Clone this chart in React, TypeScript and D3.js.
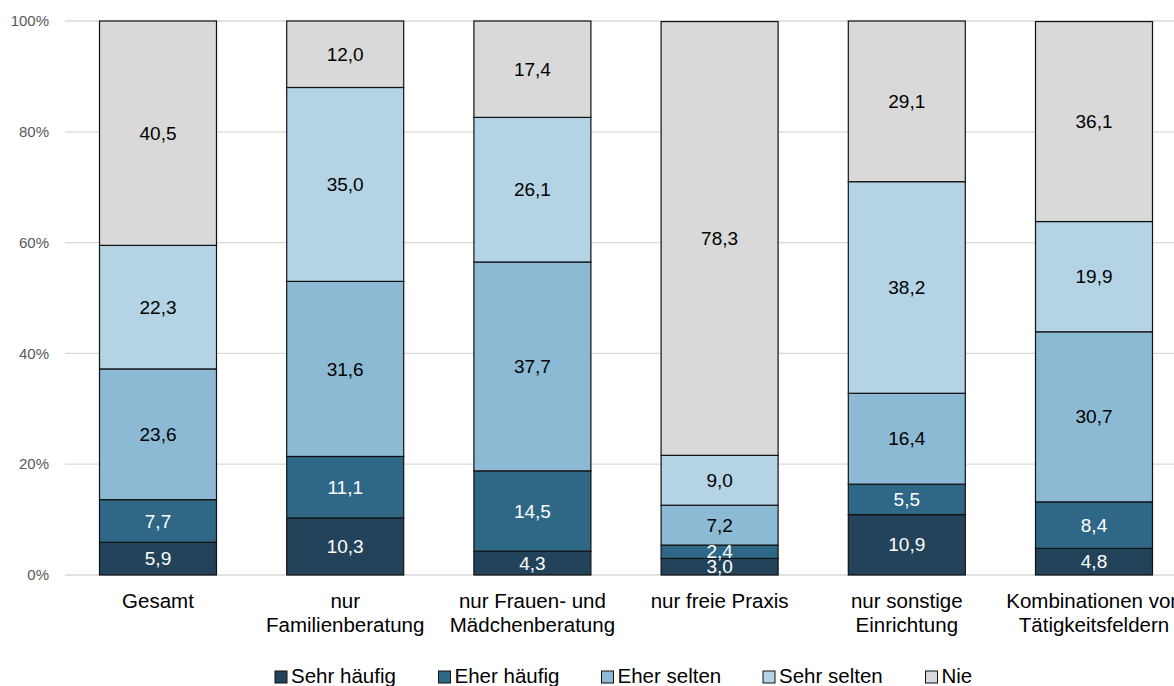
import React from "react";
import * as d3 from "d3";

const categories = [
  ["Gesamt"],
  ["nur", "Familienberatung"],
  ["nur Frauen- und", "Mädchenberatung"],
  ["nur freie Praxis"],
  ["nur sonstige", "Einrichtung"],
  ["Kombinationen von", "Tätigkeitsfeldern"],
];
const seriesNames = ["Sehr häufig", "Eher häufig", "Eher selten", "Sehr selten", "Nie"];
const sehrHaeufig = [5.9, 10.3, 4.3, 3.0, 10.9, 4.8];
const eherHaeufig = [7.7, 11.1, 14.5, 2.4, 5.5, 8.4];
const eherSelten = [23.6, 31.6, 37.7, 7.2, 16.4, 30.7];
const sehrSelten = [22.3, 35.0, 26.1, 9.0, 38.2, 19.9];
const nie = [40.5, 12.0, 17.4, 78.3, 29.1, 36.1];
const yTicks = [0, 20, 40, 60, 80, 100];

const colors = ["#22435a", "#2f6787", "#8cb9d4", "#b4d4e6", "#d9d9d9"];
const textColors = ["#ffffff", "#ffffff", "#000000", "#000000", "#000000"];
const FONT = "'Liberation Sans', Arial, sans-serif";

export default function App() {
  const W = 1174, H = 686;
  const series = [sehrHaeufig, eherHaeufig, eherSelten, sehrSelten, nie];
  const keys = categories.map((c) => c.join(" "));
  const x = d3.scaleBand<string>().domain(keys).range([64.4, 1187.6]).paddingInner(0.375).paddingOuter(0.1875);
  const y = d3.scaleLinear().domain([0, 100]).range([575, 21]);

  const stacks = keys.map((k, i) => {
    let acc = 0;
    return series.map((s, j) => {
      const y0 = acc;
      acc += s[i];
      return { j, y0, y1: acc, v: s[i] };
    });
  });

  const legendX = [275, 438.5, 601.5, 763, 925.5];

  return (
    <svg width={W} height={H} style={{ position: "absolute", left: 0, top: 0, background: "#fff" }} fontFamily={FONT}>
      {yTicks.map((t) => (
        <g key={t}>
          <line x1={65} x2={W} y1={y(t)} y2={y(t)} stroke="#d9d9d9" strokeWidth={1.3} />
          <text x={49} y={y(t)} dy="0.35em" textAnchor="end" fontSize={15} fill="#595959">{t}%</text>
        </g>
      ))}
      {keys.map((k, i) => (
        <g key={k}>
          {stacks[i].map((seg) => (
            <rect key={seg.j} x={x(k)} width={x.bandwidth()} y={y(Math.min(seg.y1, 100))} height={y(seg.y0) - y(Math.min(seg.y1, 100))}
              fill={colors[seg.j]} stroke="#111" strokeWidth={1.2} />
          ))}
          {stacks[i].map((seg) => (
            <text key={"t" + seg.j} x={(x(k) as number) + x.bandwidth() / 2} y={y((seg.y0 + seg.y1) / 2)} dy="0.35em"
              textAnchor="middle" fontSize={19} fill={textColors[seg.j]}>
              {seg.v.toFixed(1).replace(".", ",")}
            </text>
          ))}
          {categories[i].map((line, li) => (
            <text key={"c" + li} x={(x(k) as number) + x.bandwidth() / 2} y={608 + li * 24} textAnchor="middle" fontSize={20.5} fill="#000">
              {line}
            </text>
          ))}
        </g>
      ))}
      {seriesNames.map((n, j) => (
        <g key={n}>
          <rect x={legendX[j]} y={671} width={12} height={12} fill={colors[j]} stroke="#111" strokeWidth={1} />
          <text x={legendX[j] + 16} y={683} fontSize={20.5} fill="#000">{n}</text>
        </g>
      ))}
    </svg>
  );
}
